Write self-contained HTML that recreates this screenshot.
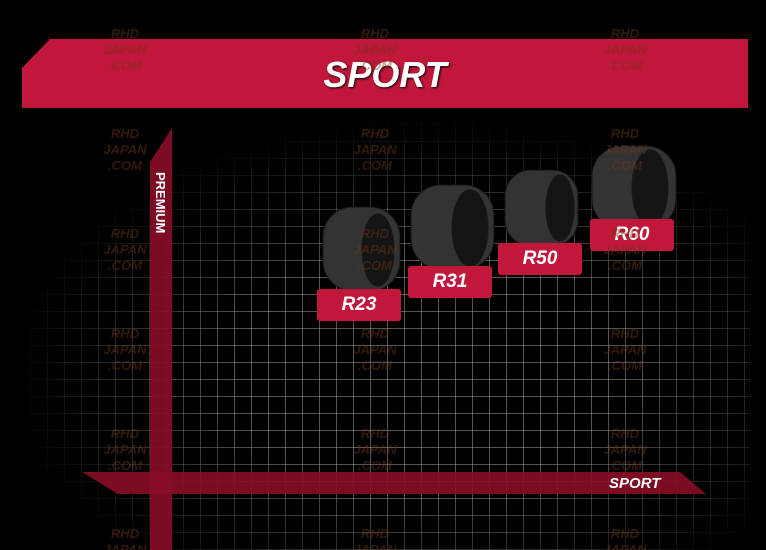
<!DOCTYPE html><html><head><style>
html,body{margin:0;width:766px;height:550px;background:#000;overflow:hidden;position:relative;font-family:"Liberation Sans",sans-serif}
.grid{position:absolute;left:30px;top:108px;width:720px;height:442px;
background-image:repeating-linear-gradient(90deg,rgba(170,170,170,.5) 0 1px,transparent 1px 17px),repeating-linear-gradient(0deg,rgba(170,170,170,.5) 0 1px,transparent 1px 17px);
-webkit-mask-image:radial-gradient(ellipse 58% 58% at 55% 60%,#000 45%,transparent 100%);mask-image:radial-gradient(ellipse 58% 58% at 55% 60%,#000 45%,transparent 100%)}
.lbl{position:absolute;width:84px;height:32px;background:#c0173a;border-radius:3px;color:#fff;font-weight:bold;font-style:italic;font-size:19px;text-align:center;line-height:32px}
.wm{position:absolute;color:rgba(110,55,25,.45);font-weight:bold;font-style:italic;font-size:13px;line-height:16px;text-align:center;width:50px}
</style></head><body>
<div class="grid"></div>
<svg width="766" height="550" style="position:absolute;left:0;top:0">
<polygon points="50,39 748,39 748,108 22,108 22,68" fill="#c0173a"/>
<polygon points="172,128 172,550 150,550 150,162" fill="#8a0c28" opacity=".9"/>
<polygon points="82,472 680,472 706,494 118,494" fill="#8a0c28" opacity=".9"/>
<g fill="#333" stroke="#151515">
<rect x="323" y="207" width="77" height="84" rx="30"/><ellipse cx="378" cy="250" rx="16" ry="36" fill="#141414"/>
<rect x="411" y="185" width="83" height="84" rx="30"/><ellipse cx="470" cy="228" rx="18" ry="38" fill="#141414"/>
<rect x="505" y="170" width="73" height="76" rx="26"/><ellipse cx="560" cy="208" rx="14" ry="33" fill="#141414"/>
<rect x="592" y="146" width="84" height="83" rx="30"/><ellipse cx="650" cy="188" rx="18" ry="38" fill="#141414"/>
</g>
</svg>
<div class="lbl" style="left:317px;top:289px">R23</div>
<div class="lbl" style="left:408px;top:266px">R31</div>
<div class="lbl" style="left:498px;top:243px">R50</div>
<div class="lbl" style="left:590px;top:219px">R60</div>
<div style="position:absolute;left:22px;top:54px;width:726px;text-align:center;color:#fff;font-weight:bold;font-style:italic;font-size:36px;text-shadow:1px 1px 2px #000">SPORT</div>
<div style="position:absolute;left:609px;top:475px;color:#fff;font-weight:bold;font-style:italic;font-size:15px">SPORT</div>
<div style="position:absolute;left:153px;top:172px;color:#fff;font-weight:bold;font-size:13px;writing-mode:vertical-rl">PREMIUM</div>
<div class="wm" style="left:100px;top:26px">RHD<br>JAPAN<br>.COM</div>
<div class="wm" style="left:350px;top:26px">RHD<br>JAPAN<br>.COM</div>
<div class="wm" style="left:600px;top:26px">RHD<br>JAPAN<br>.COM</div>
<div class="wm" style="left:100px;top:126px">RHD<br>JAPAN<br>.COM</div>
<div class="wm" style="left:350px;top:126px">RHD<br>JAPAN<br>.COM</div>
<div class="wm" style="left:600px;top:126px">RHD<br>JAPAN<br>.COM</div>
<div class="wm" style="left:100px;top:226px">RHD<br>JAPAN<br>.COM</div>
<div class="wm" style="left:350px;top:226px">RHD<br>JAPAN<br>.COM</div>
<div class="wm" style="left:600px;top:226px">RHD<br>JAPAN<br>.COM</div>
<div class="wm" style="left:100px;top:326px">RHD<br>JAPAN<br>.COM</div>
<div class="wm" style="left:350px;top:326px">RHD<br>JAPAN<br>.COM</div>
<div class="wm" style="left:600px;top:326px">RHD<br>JAPAN<br>.COM</div>
<div class="wm" style="left:100px;top:426px">RHD<br>JAPAN<br>.COM</div>
<div class="wm" style="left:350px;top:426px">RHD<br>JAPAN<br>.COM</div>
<div class="wm" style="left:600px;top:426px">RHD<br>JAPAN<br>.COM</div>
<div class="wm" style="left:100px;top:526px">RHD<br>JAPAN</div>
<div class="wm" style="left:350px;top:526px">RHD<br>JAPAN</div>
<div class="wm" style="left:600px;top:526px">RHD<br>JAPAN</div>
</body></html>
